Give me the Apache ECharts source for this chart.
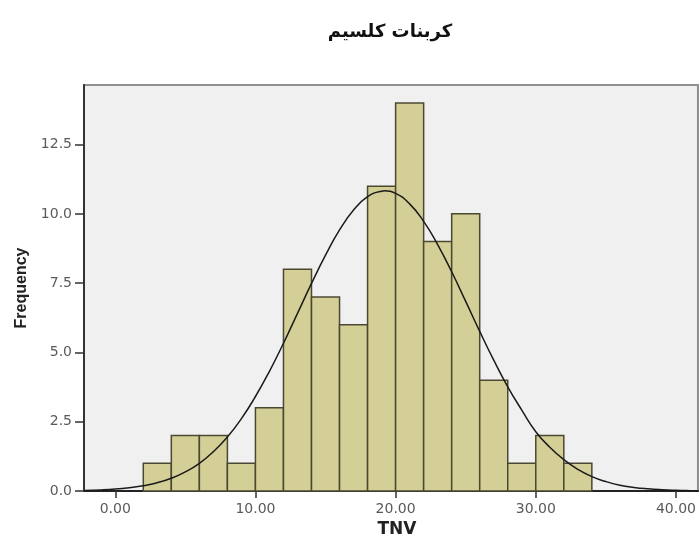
<!DOCTYPE html>
<html>
<head>
<meta charset="utf-8">
<script src="https://cdn.jsdelivr.net/npm/echarts@6/dist/echarts.min.js"></script>
<style>
  html, body { margin: 0; padding: 0; background: #ffffff; }
  #chart { width: 699px; height: 543px; }
</style>
</head>
<body>
<div id="chart"></div>
<script>
// Histogram of TNV: bins are 2 units wide
const binStarts = [2, 4, 6, 8, 10, 12, 14, 16, 18, 20, 22, 24, 26, 28, 30, 32];
const binWidth = 2;
const frequencies = [1, 2, 2, 1, 3, 8, 7, 6, 11, 14, 9, 10, 4, 1, 2, 1];

// Fitted normal curve, sampled along the x axis
const curveX = [-2.2, -1, 0, 1, 2, 3, 4, 5, 6, 7, 8, 9, 10, 11, 12, 13, 14, 15, 16, 17, 18, 19, 19.2, 20,
  21, 22, 23, 24, 25, 26, 27, 28, 29, 30, 31, 32, 33, 34, 35, 36, 37, 38, 39, 40, 41, 41.6];
const curveY = [0.02, 0.04, 0.07, 0.12, 0.19, 0.30, 0.46, 0.69, 1.00, 1.42, 1.95, 2.61, 3.41, 4.32, 5.33, 6.41,
  7.49, 8.51, 9.42, 10.14, 10.62, 10.82, 10.83, 10.74, 10.36, 9.73, 8.89, 7.91, 6.84, 5.76, 4.72, 3.76,
  2.92, 2.14, 1.58, 1.13, 0.78, 0.52, 0.34, 0.21, 0.13, 0.078, 0.045, 0.025, 0.013, 0.01];

// Tick labels
const xTicks = [0, 10, 20, 30, 40];
const yTicks = [0, 2.5, 5, 7.5, 10, 12.5];

const titleText = 'كربنات كلسيم';
const xName = 'TNV';
const yName = 'Frequency';

const barData = binStarts.map((s, i) => [s, s + binWidth, frequencies[i]]);
const lineData = curveX.map((x, i) => [x, curveY[i]]);

const chart = echarts.init(document.getElementById('chart'), null, { renderer: 'canvas' });

chart.setOption({
  animation: false,
  backgroundColor: '#ffffff',
  title: {
    text: titleText,
    left: 385,
    textAlign: 'center',
    top: 18,
    textStyle: { fontFamily: 'DejaVu Sans', fontWeight: 'bold', fontSize: 18, color: '#111' }
  },
  grid: {
    left: 84, top: 85, right: 0, bottom: 52,
    show: true,
    backgroundColor: '#f0f0f0',
    borderColor: '#8f8f8f',
    borderWidth: 2
  },
  xAxis: {
    type: 'value',
    min: -2.23,
    max: 41.57,
    name: xName,
    nameLocation: 'middle',
    nameGap: 30,
    nameTextStyle: { fontFamily: 'DejaVu Sans', fontWeight: 'bold', fontSize: 17, color: '#222', padding: [0, 0, 0, 12] },
    splitLine: { show: false },
    axisLine: { show: true, onZero: false, lineStyle: { color: '#222', width: 2 } },
    axisTick: { show: true, inside: false, length: 7, customValues: xTicks, lineStyle: { color: '#333', width: 1.5 } },
    axisLabel: {
      customValues: xTicks,
      margin: 11,
      formatter: v => v.toFixed(2),
      fontFamily: 'DejaVu Sans', fontSize: 14, color: '#5a5a5a'
    }
  },
  yAxis: {
    type: 'value',
    min: 0,
    max: 14.65,
    name: yName,
    nameLocation: 'middle',
    nameGap: 52,
    nameRotate: 90,
    nameTextStyle: { fontFamily: 'Liberation Sans', fontWeight: 'bold', fontSize: 16, color: '#222' },
    splitLine: { show: false },
    axisLine: { show: true, onZero: false, lineStyle: { color: '#333', width: 2 } },
    axisTick: { show: true, inside: false, length: 9, customValues: yTicks, lineStyle: { color: '#333', width: 1.5 } },
    axisLabel: {
      customValues: yTicks,
      margin: 12,
      formatter: v => v.toFixed(1),
      fontFamily: 'DejaVu Sans', fontSize: 14, color: '#5a5a5a'
    }
  },
  series: [
    {
      type: 'custom',
      data: barData,
      encode: { x: [0, 1], y: 2 },
      renderItem: function (params, api) {
        const p0 = api.coord([api.value(0), api.value(2)]);
        const p1 = api.coord([api.value(1), 0]);
        return {
          type: 'rect',
          shape: { x: p0[0], y: p0[1], width: p1[0] - p0[0], height: p1[1] - p0[1] },
          style: { fill: '#d4cf97', stroke: '#4b4832', lineWidth: 1.5 }
        };
      },
      z: 2
    },
    {
      type: 'line',
      data: lineData,
      smooth: true,
      showSymbol: false,
      lineStyle: { color: '#1a1a1a', width: 1.5 },
      z: 3
    }
  ]
});
</script>
</body>
</html>
